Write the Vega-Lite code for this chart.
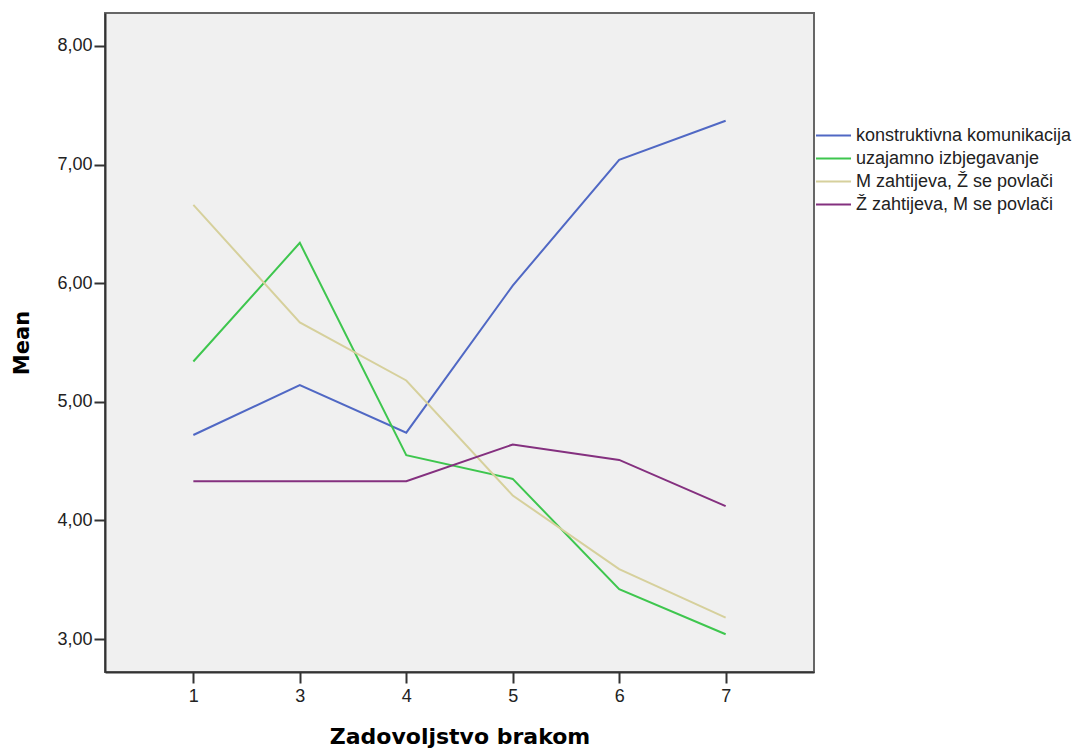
{
  "$schema": "https://vega.github.io/schema/vega-lite/v6.json",
  "width": 709,
  "height": 659,
  "autosize": "none",
  "padding": {"left": 105, "top": 13, "right": 267, "bottom": 78},
  "background": "white",
  "config": {
    "font": "Liberation Sans",
    "view": {"fill": "#f0f0f0", "stroke": "#666666", "strokeWidth": 2}
  },
  "data": {
    "values": [
      {"x": "1", "series": "konstruktivna komunikacija", "mean": 4.72},
      {"x": "3", "series": "konstruktivna komunikacija", "mean": 5.14},
      {"x": "4", "series": "konstruktivna komunikacija", "mean": 4.74},
      {"x": "5", "series": "konstruktivna komunikacija", "mean": 5.98},
      {"x": "6", "series": "konstruktivna komunikacija", "mean": 7.04},
      {"x": "7", "series": "konstruktivna komunikacija", "mean": 7.37},
      {"x": "1", "series": "uzajamno izbjegavanje", "mean": 5.34},
      {"x": "3", "series": "uzajamno izbjegavanje", "mean": 6.34},
      {"x": "4", "series": "uzajamno izbjegavanje", "mean": 4.55},
      {"x": "5", "series": "uzajamno izbjegavanje", "mean": 4.35},
      {"x": "6", "series": "uzajamno izbjegavanje", "mean": 3.42},
      {"x": "7", "series": "uzajamno izbjegavanje", "mean": 3.04},
      {"x": "1", "series": "M zahtijeva, Ž se povlači", "mean": 6.66},
      {"x": "3", "series": "M zahtijeva, Ž se povlači", "mean": 5.67},
      {"x": "4", "series": "M zahtijeva, Ž se povlači", "mean": 5.18},
      {"x": "5", "series": "M zahtijeva, Ž se povlači", "mean": 4.21},
      {"x": "6", "series": "M zahtijeva, Ž se povlači", "mean": 3.59},
      {"x": "7", "series": "M zahtijeva, Ž se povlači", "mean": 3.18},
      {"x": "1", "series": "Ž zahtijeva, M se povlači", "mean": 4.33},
      {"x": "3", "series": "Ž zahtijeva, M se povlači", "mean": 4.33},
      {"x": "4", "series": "Ž zahtijeva, M se povlači", "mean": 4.33},
      {"x": "5", "series": "Ž zahtijeva, M se povlači", "mean": 4.64},
      {"x": "6", "series": "Ž zahtijeva, M se povlači", "mean": 4.51},
      {"x": "7", "series": "Ž zahtijeva, M se povlači", "mean": 4.12}
    ]
  },
  "mark": {"type": "line", "strokeWidth": 2},
  "encoding": {
    "x": {
      "field": "x",
      "type": "ordinal",
      "sort": ["1", "3", "4", "5", "6", "7"],
      "scale": {"type": "point", "padding": 0.83},
      "axis": {
        "title": "Zadovoljstvo brakom",
        "titleFont": "DejaVu Sans",
        "titleFontWeight": "bold",
        "titleFontSize": 22,
        "titleColor": "#000000",
        "titlePadding": 21,
        "labelAngle": 0,
        "labelFontSize": 18,
        "labelColor": "#222222",
        "labelPadding": 4,
        "tickSize": 11,
        "tickWidth": 2,
        "tickColor": "#333333",
        "domainColor": "#333333",
        "domainWidth": 2,
        "grid": false
      }
    },
    "y": {
      "field": "mean",
      "type": "quantitative",
      "scale": {"domain": [2.722, 8.278], "nice": false, "zero": false},
      "axis": {
        "title": "Mean",
        "titleFont": "DejaVu Sans",
        "titleFontWeight": "bold",
        "titleFontSize": 21,
        "titleColor": "#000000",
        "titlePadding": 24,
        "values": [3, 4, 5, 6, 7, 8],
        "labelExpr": "replace(format(datum.value, '.2f'), '.', ',')",
        "labelFontSize": 18,
        "labelColor": "#222222",
        "labelPadding": 2,
        "tickSize": 11,
        "tickWidth": 2,
        "tickColor": "#333333",
        "domainColor": "#333333",
        "domainWidth": 2,
        "grid": false
      }
    },
    "color": {
      "field": "series",
      "type": "nominal",
      "sort": ["konstruktivna komunikacija", "uzajamno izbjegavanje", "M zahtijeva, Ž se povlači", "Ž zahtijeva, M se povlači"],
      "scale": {
        "domain": ["konstruktivna komunikacija", "uzajamno izbjegavanje", "M zahtijeva, Ž se povlači", "Ž zahtijeva, M se povlači"],
        "range": ["#5068c4", "#3ec64e", "#d6d09c", "#84307f"]
      },
      "legend": {
        "title": null,
        "orient": "none",
        "legendX": 710,
        "legendY": 111,
        "symbolType": "stroke",
        "symbolSize": 1225,
        "symbolStrokeWidth": 2,
        "clipHeight": 23,
        "labelFontSize": 18,
        "labelColor": "#222222",
        "labelOffset": 4,
        "labelLimit": 400,
        "rowPadding": 0
      }
    }
  }
}
